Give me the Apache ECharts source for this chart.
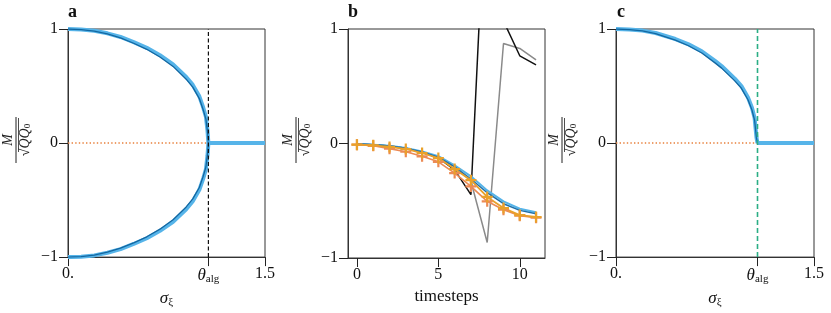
<!DOCTYPE html>
<html>
<head>
<meta charset="utf-8">
<script src="https://cdn.jsdelivr.net/npm/echarts@6/dist/echarts.min.js"></script>
<style>
html,body{margin:0;padding:0;background:#fff;}
#chart{width:831px;height:313px;}
</style>
</head>
<body>
<div id="chart"></div>
<script>
// ---------- data ----------
// panel a
const thetaA = 1.069;
const sigmaA = [0, 0.1, 0.2, 0.3, 0.4, 0.5, 0.6, 0.7, 0.8, 0.9, 0.95, 1.0, 1.03, 1.05, 1.062, 1.069];
const aUpperLight = [1, 0.996, 0.985, 0.962, 0.93, 0.885, 0.835, 0.77, 0.69, 0.58, 0.51, 0.41, 0.31, 0.23, 0.11, 0];
const aUpperDark  = [1, 0.995, 0.982, 0.957, 0.922, 0.875, 0.822, 0.755, 0.672, 0.56, 0.49, 0.39, 0.29, 0.21, 0.10, 0];
const aLowerLight = [-1, -0.996, -0.985, -0.962, -0.93, -0.885, -0.835, -0.77, -0.69, -0.58, -0.51, -0.41, -0.31, -0.23, -0.11, 0];
const aLowerDark  = [-1, -0.995, -0.982, -0.957, -0.922, -0.875, -0.822, -0.755, -0.672, -0.56, -0.49, -0.39, -0.29, -0.21, -0.10, 0];
// panel c
const thetaC = 1.072;
const sigmaC = [0, 0.1, 0.2, 0.3, 0.45, 0.55, 0.65, 0.75, 0.8, 0.9, 0.95, 1.0, 1.03, 1.05, 1.064, 1.072];
const cLight = [1, 0.996, 0.986, 0.965, 0.912, 0.865, 0.805, 0.72, 0.675, 0.565, 0.50, 0.40, 0.31, 0.22, 0.05, 0];
const cDark  = [1, 0.995, 0.983, 0.96, 0.903, 0.853, 0.79, 0.703, 0.657, 0.545, 0.48, 0.38, 0.29, 0.20, 0.045, 0];
// panel b
const timesteps = [0, 1, 2, 3, 4, 5, 6, 7, 8, 9, 10, 11];
const bSkyBlue   = [-0.005, -0.01, -0.02, -0.04, -0.07, -0.11, -0.19, -0.287, -0.41, -0.506, -0.57, -0.60];
const bDarkBlue  = [-0.005, -0.01, -0.022, -0.042, -0.075, -0.12, -0.205, -0.31, -0.43, -0.526, -0.584, -0.613];
const bOrange    = [-0.01, -0.016, -0.03, -0.048, -0.083, -0.127, -0.223, -0.32, -0.467, -0.564, -0.625, -0.642];
const bVermilion = [-0.01, -0.02, -0.045, -0.072, -0.112, -0.16, -0.258, -0.375, -0.505, -0.578, -0.63, -0.648];
const bGray      = [-0.005, -0.01, -0.022, -0.042, -0.075, -0.12, -0.20, -0.33, -0.865, 0.873, 0.83, 0.73];
const bBlack     = [-0.005, -0.01, -0.022, -0.042, -0.078, -0.125, -0.23, -0.447, 2.51, 1.07, 0.766, 0.687];
// ticks
const yTicks = [-1, 0, 1];
const bXTicks = [0, 5, 10];

// ---------- chart ----------
const FONT = '"Liberation Serif", "DejaVu Serif", serif';
const AX = '#333';
const chart = echarts.init(document.getElementById('chart'), null, {renderer: 'canvas'});
const pair = (xs, ys) => xs.map((x, i) => [x, ys[i]]);
const plus = 'path://M4,0h2v4h4v2h-4v4h-2v-4h-4v-2h4z';

const grids = [
  {left: 68, top: 29, width: 197, height: 229},
  {left: 348, top: 29, width: 197, height: 229},
  {left: 616, top: 29, width: 198, height: 229}
].map(g => Object.assign(g, {show: true, borderColor: AX, borderWidth: 1, containLabel: false}));

const richBase = {
  t: {fontFamily: FONT, fontSize: 17, fontStyle: 'italic', color: '#111'},
  s: {fontFamily: FONT, fontSize: 11, color: '#111', padding: [8, 0, 0, 0]}
};
const TICK = {show: true, length: 9, lineStyle: {color: '#222', width: 1}};

function sigmaXAxis(idx, theta) {
  return {
    type: 'value', gridIndex: idx, min: 0, max: 1.5,
    axisLine: {show: true, onZero: false, lineStyle: {color: AX, width: 1}},
    axisTick: Object.assign({customValues: [0, theta, 1.5]}, TICK),
    axisLabel: {
      customValues: [0, theta, 1.5], margin: 9, fontFamily: FONT, fontSize: 16, color: '#111',
      showMinLabel: true, showMaxLabel: true,
      formatter: v => v === 0 ? '0.' : (v === 1.5 ? '1.5' : '{t|θ}{s|alg}'),
      rich: richBase
    },
    splitLine: {show: false},
    name: '{t|σ}{s|ξ}', nameLocation: 'middle', nameGap: 25,
    nameTextStyle: {fontFamily: FONT, fontSize: 17, color: '#111', rich: richBase}
  };
}

const xAxes = [
  sigmaXAxis(0, thetaA),
  {
    type: 'value', gridIndex: 1, min: -0.55, max: 11.55,
    axisLine: {show: true, onZero: false, lineStyle: {color: AX, width: 1}},
    axisTick: Object.assign({customValues: bXTicks}, TICK),
    axisLabel: {customValues: bXTicks, margin: 9, fontFamily: FONT, fontSize: 16, color: '#111'},
    splitLine: {show: false},
    name: 'timesteps', nameLocation: 'middle', nameGap: 27,
    nameTextStyle: {fontFamily: FONT, fontSize: 17, color: '#111'}
  },
  sigmaXAxis(2, thetaC)
];

const yAxes = [0, 1, 2].map(i => ({
  type: 'value', gridIndex: i, min: -1, max: 1, interval: 1,
  axisLine: {show: true, onZero: false, lineStyle: {color: AX, width: 1}},
  axisTick: TICK,
  axisLabel: {margin: 10, fontFamily: FONT, fontSize: 16, color: '#111',
    formatter: v => v < 0 ? '\u2212' + Math.abs(v) : String(v)},
  splitLine: {show: false}
}));

function ln(xi, data, color, width, extra) {
  return Object.assign({
    type: 'line', xAxisIndex: xi, yAxisIndex: xi, data: data, showSymbol: false, symbol: 'none',
    lineStyle: {color: color, width: width}, silent: true, animation: false, clip: true, z: 2
  }, extra || {});
}

const LIGHT = '#56B4E9', DARK = '#0B5E99';
const series = [
  // panel a
  ln(0, [[0, 0], [thetaA, 0]], '#E8803C', 1.4, {lineStyle: {color: '#E8803C', width: 1.4, type: [1.4, 2.2]}}),
  ln(0, pair(sigmaA, aUpperLight), LIGHT, 4),
  ln(0, pair(sigmaA, aLowerLight), LIGHT, 4),
  ln(0, pair(sigmaA, aUpperDark), DARK, 1.3, {lineStyle: {color: DARK, width: 1.3, opacity: 0.9}}),
  ln(0, pair(sigmaA, aLowerDark), DARK, 1.3, {lineStyle: {color: DARK, width: 1.3, opacity: 0.9}}),
  ln(0, [[thetaA, 0], [1.5, 0]], LIGHT, 4),
  ln(0, [[thetaA, -1], [thetaA, 1]], '#111', 1.2, {lineStyle: {color: '#111', width: 1.2, type: [4, 2.5]}, z: 3}),
  // panel b
  ln(1, pair(timesteps, bGray), '#8A8A8A', 1.5, {z: 1}),
  ln(1, pair(timesteps, bBlack), '#111', 1.5, {z: 1}),
  ln(1, pair(timesteps, bSkyBlue), LIGHT, 2),
  ln(1, pair(timesteps, bDarkBlue), '#1F6FA8', 1.5),
  ln(1, pair(timesteps, bVermilion), '#EC8A55', 1.6, {showSymbol: true, symbol: plus, symbolSize: 11, itemStyle: {color: '#EC8A55'}}),
  ln(1, pair(timesteps, bOrange), '#E9A12A', 1.8, {showSymbol: true, symbol: plus, symbolSize: 11, itemStyle: {color: '#E9A12A'}}),
  // panel c
  ln(2, [[0, 0], [thetaC, 0]], '#E8803C', 1.4, {lineStyle: {color: '#E8803C', width: 1.4, type: [1.4, 2.2]}}),
  ln(2, pair(sigmaC, cLight), LIGHT, 4),
  ln(2, pair(sigmaC, cDark), DARK, 1.3, {lineStyle: {color: DARK, width: 1.3, opacity: 0.9}}),
  ln(2, [[thetaC, 0], [1.5, 0]], LIGHT, 4),
  ln(2, [[thetaC, -1], [thetaC, 1]], '#2BAE85', 1.6, {lineStyle: {color: '#2BAE85', width: 1.6, type: [5, 3]}, z: 3})
];

function fraction(x, y) {
  return {
    type: 'group', x: x, y: y, rotation: Math.PI / 2, silent: true,
    children: [
      {type: 'line', shape: {x1: -23, y1: 0, x2: 23, y2: 0}, style: {stroke: '#222', lineWidth: 1}},
      {type: 'text', x: 0, y: -1, style: {text: 'M', fontFamily: FONT, fontSize: 14, fontStyle: 'italic', fill: '#222', align: 'center', verticalAlign: 'bottom'}},
      {type: 'text', x: 0, y: 1.5, style: {
        text: '{r|√}{q|QQ}{s|0}', align: 'center', verticalAlign: 'top',
        rich: {
          r: {fontFamily: FONT, fontSize: 14, fill: '#222'},
          q: {fontFamily: FONT, fontSize: 14, fontStyle: 'italic', fill: '#222'},
          s: {fontFamily: FONT, fontSize: 9, fill: '#222', padding: [6, 0, 0, 0]}
        }
      }},
      {type: 'line', shape: {x1: -12, y1: 2.5, x2: 22, y2: 2.5}, style: {stroke: '#222', lineWidth: 0.8}}
    ]
  };
}

function panelLabel(txt, x) {
  return {type: 'text', x: x, y: 21, silent: true,
    style: {text: txt, fontFamily: FONT, fontSize: 18, fontWeight: 'bold', fill: '#111', verticalAlign: 'bottom', align: 'left'}};
}

chart.setOption({
  animation: false,
  backgroundColor: '#fff',
  grid: grids,
  xAxis: xAxes,
  yAxis: yAxes,
  series: series,
  graphic: [
    fraction(16, 140), fraction(296, 140), fraction(562, 140),
    panelLabel('a', 68), panelLabel('b', 348), panelLabel('c', 617)
  ]
});
</script>
</body>
</html>
